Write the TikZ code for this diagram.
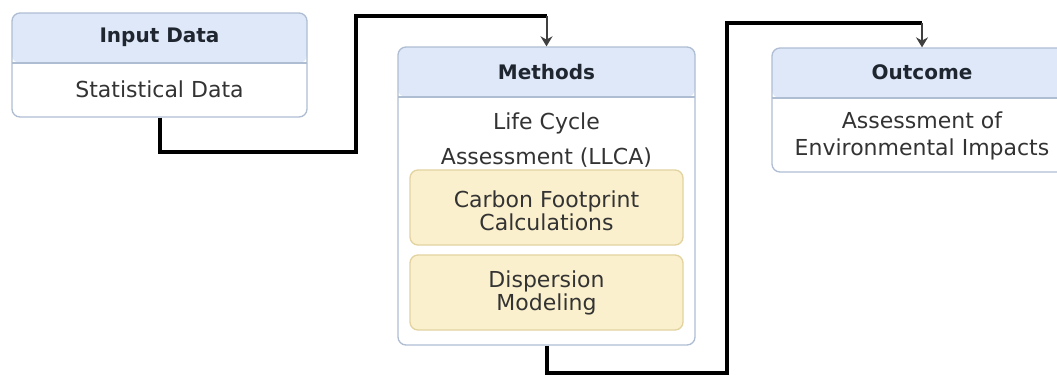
\documentclass[tikz,border=0pt]{standalone}
\usepackage{fontspec}
\setmainfont{DejaVu Sans}
\usetikzlibrary{positioning, arrows.meta, calc}

\definecolor{headblue}{HTML}{DEE8F8}
\definecolor{edgeblue}{HTML}{AFBDD3}
\definecolor{noteyellow}{HTML}{FBF0CD}
\definecolor{edgeyellow}{HTML}{E2D39F}
\definecolor{textgray}{HTML}{333333}
\definecolor{titleink}{HTML}{1F2630}

\begin{document}
\begin{tikzpicture}[
    x=0.75pt, y=-0.75pt,
    box/.style={
        rectangle,
        rounded corners=6pt,
        draw=edgeblue,
        line width=1pt,
        fill=white,
        inner sep=0pt,
        path picture={
            \fill[headblue] (path picture bounding box.north west)
                rectangle ([yshift=-37.5pt]path picture bounding box.north east);
            \draw[edgeblue, line width=1pt]
                ([yshift=-37.5pt]path picture bounding box.north west)
                -- ([yshift=-37.5pt]path picture bounding box.north east);
        }
    },
    sub_box/.style={
        rectangle,
        rounded corners=6pt,
        draw=edgeyellow,
        line width=1pt,
        fill=noteyellow,
        minimum width=204.75pt,
        minimum height=56.25pt,
        inner sep=0pt
    },
    head_text/.style={
        font=\fontsize{15}{17}\selectfont\bfseries,
        text=titleink
    },
    body_text/.style={
        align=center,
        font=\fontsize{16.5}{17.25}\selectfont,
        text=textgray
    },
    wire/.style={
        line width=3pt,
        black
    },
    wire_tip/.style={
        line width=1.5pt,
        black!75,
        -{Stealth[length=7.5pt, width=9pt]}
    }
]

    \useasboundingbox (0,0) rectangle (1057,376);

    % -- Input --
    \node[box, minimum width=221.25pt, minimum height=78pt] (input) at (159.5,65) {};
    \node[head_text] (input_title) at ($(input.north)+(0,25)$) {Input Data};
    \node[body_text] (input_body) at ($(input.north)+(0,77)$) {Statistical Data};

    % -- Methods --
    \node[box, minimum width=222.75pt, minimum height=223.5pt] (methods) at (546.5,196) {};
    \node[head_text] (methods_title) at ($(methods.north)+(0,26)$) {Methods};
    \node[body_text] (methods_body) at ($(methods.north)+(0,93.5)$) {Life Cycle\\[9pt]Assessment (LLCA)};

    \node[sub_box] (carbon) at (546.5,207.5) {};
    \node[body_text] at ($(carbon.center)+(0,3)$) {Carbon Footprint\\Calculations};
    \node[sub_box] (dispersion) at (546.5,292.5) {};
    \node[body_text] at ($(dispersion.center)+(0,0.5)$) {Dispersion\\Modeling};

    % -- Outcome --
    \node[box, minimum width=225pt, minimum height=93pt] (outcome) at (922,110) {};
    \node[head_text] (outcome_title) at ($(outcome.north)+(0,25)$) {Outcome};
    \node[body_text] (outcome_body) at ($(outcome.north)+(0,88.5)$) {Assessment of\\[3pt]Environmental Impacts};

    % Connectors
    \coordinate (turn1) at (methods.north |- 0,16);
    \coordinate (turn2) at (outcome.north |- 0,23);

    \draw[wire] (input.south) |- (356,152) |- (turn1);
    \draw[wire_tip] (turn1) -- (methods.north);

    \draw[wire] (methods.south) |- (727,373) |- (turn2);
    \draw[wire_tip] (turn2) -- (outcome.north);

\end{tikzpicture}
\end{document}
